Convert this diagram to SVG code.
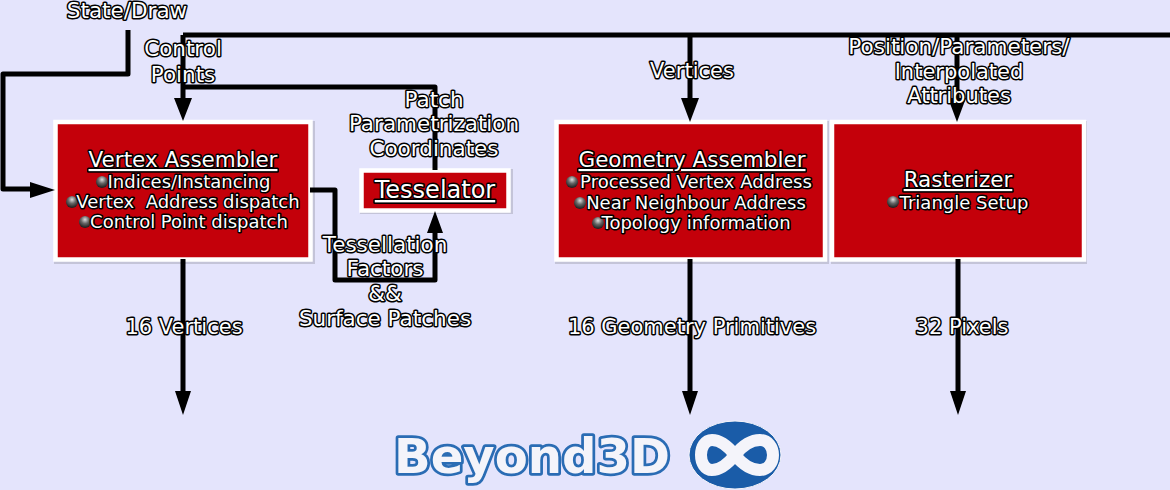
<svg xmlns="http://www.w3.org/2000/svg" width="1170" height="490" viewBox="0 0 1170 490">
<defs>
<style>
.t{font-family:"DejaVu Sans",sans-serif;font-size:21.5px;fill:#fff;stroke:#000;stroke-width:3px;paint-order:stroke;stroke-linejoin:round;text-anchor:middle;white-space:pre}
.s{font-size:18px}
.n{font-size:21px}
.u{text-decoration:underline}
.box{fill:#c4000a;stroke:#fff;stroke-width:4.5px}
.sh{fill:#c4c4d8}
.c{fill:none;stroke:#000;stroke-width:5px;stroke-linejoin:round}
.h{fill:#000}
</style>
<radialGradient id="b" cx="0.5" cy="0.3" r="0.65"><stop offset="0" stop-color="#ddd"/><stop offset="0.5" stop-color="#666"/><stop offset="1" stop-color="#222"/></radialGradient>
</defs>
<rect width="1170" height="490" fill="#e4e4fc"/>
<g id="vertex-assembler">
<rect class="sh" x="54" y="121" width="261" height="143"/>
<rect class="box" x="55.500" y="122" width="255" height="137.500"/>
<text class="t u" x="183" y="167">Vertex Assembler</text>
<circle cx="102" cy="182" r="6" fill="url(#b)"/><text class="t s" x="189" y="188">Indices/Instancing</text>
<circle cx="72" cy="202" r="6" fill="url(#b)"/><text class="t s" x="188" y="208">Vertex  Address dispatch</text>
<circle cx="85" cy="222" r="6" fill="url(#b)"/><text class="t s" x="189" y="228">Control Point dispatch</text>
</g>
<g id="tesselator">
<rect class="sh" x="360" y="169" width="153" height="45"/>
<rect class="box" x="361.500" y="170.500" width="147" height="40"/>
<text class="t u" x="435" y="198" style="font-size:24px">Tesselator</text>
</g>
<g id="geometry-assembler">
<rect class="sh" x="555" y="121" width="274" height="143"/>
<rect class="box" x="556.500" y="122" width="268.500" height="137.500"/>
<text class="t u" x="692" y="167">Geometry Assembler</text>
<circle cx="572" cy="182" r="6" fill="url(#b)"/><text class="t s" x="696" y="188">Processed Vertex Address</text>
<circle cx="580" cy="203" r="6" fill="url(#b)"/><text class="t s" x="696" y="209">Near Neighbour Address</text>
<circle cx="598" cy="223" r="6" fill="url(#b)"/><text class="t s" x="696" y="229">Topology information</text>
</g>
<g id="rasterizer">
<rect class="sh" x="831" y="121" width="256" height="143"/>
<rect class="box" x="832" y="122" width="252" height="137.500"/>
<text class="t u" x="958" y="187">Rasterizer</text>
<circle cx="893" cy="202" r="6" fill="url(#b)"/><text class="t s" x="964" y="209">Triangle Setup</text>
</g>
<g id="connectors">
<path class="c" d="M128 30V74H3V189H35"/>
<path class="c" d="M183 35H1170"/>
<path class="c" d="M183 35V100M183 87H435V170"/>
<path class="c" d="M690 35V100M957 35V100"/>
<path class="c" d="M310 190H335V280H435V230"/>
<path class="c" d="M183 259V395M690 259V395M958 259V395"/>
<path class="h" d="M174 98H192L183 121ZM681 98H699L690 122ZM948 98H966L957 122ZM30 182V198L55 190ZM427 233H443L435 211ZM175 391H191L183 415ZM682 391H698L690 415ZM950 391H966L958 415Z"/>
</g>
<g id="labels">
<text class="t" x="127" y="18">State/Draw</text>
<text class="t" x="183" y="56">Control</text>
<text class="t" x="183" y="82">Points</text>
<text class="t n" x="692" y="78">Vertices</text>
<text class="t" x="434" y="107">Patch</text>
<text class="t" x="434" y="131">Parametrization</text>
<text class="t" x="434" y="156">Coordinates</text>
<text class="t" x="959" y="54">Position/Parameters/</text>
<text class="t n" x="959" y="79">Interpolated</text>
<text class="t n" x="959" y="103">Attributes</text>
<text class="t" x="385" y="252">Tessellation</text>
<text class="t" x="385" y="276">Factors</text>
<text class="t" x="385" y="301">&amp;&amp;</text>
<text class="t" x="385" y="326">Surface Patches</text>
<text class="t n" x="184" y="334">16 Vertices</text>
<text class="t n" x="692" y="334">16 Geometry Primitives</text>
<text class="t n" x="962" y="334">32 Pixels</text>
</g>
<g id="logo">
<text x="532" y="473" text-anchor="middle" font-family="'DejaVu Sans',sans-serif" font-weight="700" font-size="48" textLength="276" lengthAdjust="spacingAndGlyphs" fill="#f4f4fa" stroke="#2a6cb4" stroke-width="5.500" stroke-linejoin="round" paint-order="stroke">Beyond3D</text>
<ellipse cx="735" cy="455" rx="46" ry="34" fill="#1a5ca8" stroke="#f4f4fa" stroke-width="1"/>
<path d="M735 455C727 445 719 440 712 440C705 440 701 447 701 455C701 463 705 470 712 470C719 470 727 465 735 455C743 445 751 440 760 440C768 440 773 447 773 455C773 463 768 470 760 470C751 470 743 465 735 455Z" fill="none" stroke="#f4f4fa" stroke-width="12"/>
</g>
</svg>
